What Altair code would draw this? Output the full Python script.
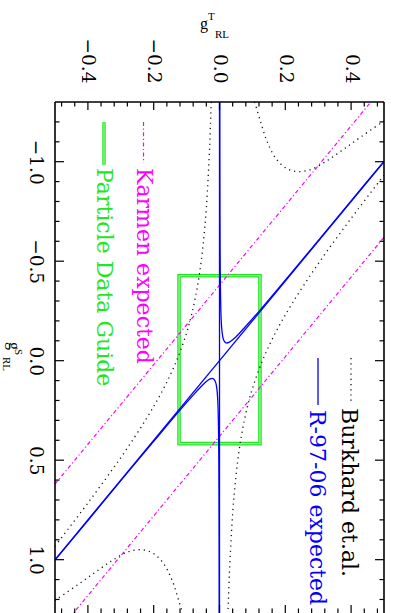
import altair as alt
import pandas as pd

# ---------------- data ----------------
# axis ticks
GT_MAJOR = [-0.4, -0.2, 0.0, 0.2, 0.4]
GT_MINOR = [-0.48, -0.44, -0.36, -0.32, -0.28, -0.24, -0.16, -0.12, -0.08, -0.04,
            0.04, 0.08, 0.12, 0.16, 0.24, 0.28, 0.32, 0.36, 0.44, 0.48]
GS_MAJOR = [-1.0, -0.5, 0.0, 0.5, 1.0]
GS_MINOR = [-1.2, -1.1, -0.9, -0.8, -0.7, -0.6, -0.4, -0.3, -0.2, -0.1,
            0.1, 0.2, 0.3, 0.4, 0.6, 0.7, 0.8, 0.9, 1.1, 1.2]

LEGEND_LABELS = ["Burkhard et.al.", "R-97-06 expected", "Karmen expected", "Particle Data Guide"]

# R-97-06 expected (blue)
R97_VERT_T = [0.0, 0.0]
R97_VERT_S = [-1.3, 1.3]
R97_DIAG_T = [0.5, -0.5]
R97_DIAG_S = [-1.0, 1.0]
R97_UP_T = [0.00077, 0.001, 0.0015, 0.002, 0.003, 0.004, 0.005, 0.007, 0.010, 0.013, 0.017,
            0.022, 0.030, 0.040, 0.060, 0.080, 0.120, 0.200, 0.300, 0.400, 0.500]
R97_UP_S = [-1.300, -1.002, -0.670, -0.504, -0.339, -0.258, -0.210, -0.157, -0.120, -0.103, -0.093,
            -0.089, -0.093, -0.105, -0.137, -0.173, -0.248, -0.405, -0.603, -0.803, -1.002]
R97_LO_T = [-0.00077, -0.001, -0.0015, -0.002, -0.003, -0.004, -0.005, -0.007, -0.010, -0.013, -0.017,
            -0.022, -0.030, -0.040, -0.060, -0.080, -0.120, -0.200, -0.300, -0.400, -0.500]
R97_LO_S = [1.300, 1.002, 0.670, 0.504, 0.339, 0.258, 0.210, 0.157, 0.120, 0.103, 0.093,
            0.089, 0.093, 0.105, 0.137, 0.173, 0.248, 0.405, 0.603, 0.803, 1.002]

# Burkhard et.al. (black dotted)
BUR_L_T = [-0.0252, -0.030, -0.040, -0.050, -0.060, -0.070, -0.085, -0.100, -0.130, -0.170, -0.220, -0.300, -0.400, -0.500]
BUR_L_S = [-1.300, -1.073, -0.770, -0.580, -0.447, -0.346, -0.230, -0.140, -0.002, 0.140, 0.285, 0.487, 0.715, 0.932]
BUR_R_T = [0.0252, 0.030, 0.040, 0.050, 0.060, 0.070, 0.085, 0.100, 0.130, 0.170, 0.220, 0.300, 0.400, 0.500]
BUR_R_S = [1.300, 1.073, 0.770, 0.580, 0.447, 0.346, 0.230, 0.140, 0.002, -0.140, -0.285, -0.487, -0.715, -0.932]
BUR_TOP_T = [0.107, 0.125, 0.145, 0.172, 0.205, 0.240, 0.280, 0.325, 0.375, 0.430, 0.500]
BUR_TOP_S = [-1.300, -1.200, -1.100, -1.015, -0.965, -0.950, -0.962, -1.003, -1.060, -1.125, -1.205]
BUR_BOT_T = [-0.107, -0.125, -0.145, -0.172, -0.205, -0.240, -0.280, -0.325, -0.375, -0.430, -0.500]
BUR_BOT_S = [1.300, 1.200, 1.100, 1.015, 0.965, 0.950, 0.962, 1.003, 1.060, 1.125, 1.205]

# Karmen expected (magenta dash-dot)
KAR_1_T = [-0.50, 0.46]
KAR_1_S = [0.62, -1.30]
KAR_2_T = [0.50, -0.46]
KAR_2_S = [-0.62, 1.30]

# Particle Data Guide (green box)
PDG_T = [-0.123, 0.123]
PDG_S = [-0.427, 0.417]

# ---------------- layout ----------------
W, H = 329, 511
PAD = {"left": 55, "top": 102, "right": 9, "bottom": 0}

BLUE = "#0000ff"
MAG = "#ff00ff"
GREEN = "#22e622"
LIGHTGREEN = "#a8ffa8"
SERIF = "DejaVu Serif"


def curves(named):
    rows = []
    for name, (ts, ss) in named.items():
        for i, (t, s) in enumerate(zip(ts, ss)):
            rows.append({"curve": name, "i": i, "gT": t, "gS": s})
    return pd.DataFrame(rows)


blue_df = curves({"vert": (R97_VERT_T, R97_VERT_S), "diag": (R97_DIAG_T, R97_DIAG_S),
                  "up": (R97_UP_T, R97_UP_S), "lo": (R97_LO_T, R97_LO_S)})
black_df = curves({"l": (BUR_L_T, BUR_L_S), "r": (BUR_R_T, BUR_R_S),
                   "top": (BUR_TOP_T, BUR_TOP_S), "bot": (BUR_BOT_T, BUR_BOT_S)})
mag_df = curves({"k1": (KAR_1_T, KAR_1_S), "k2": (KAR_2_T, KAR_2_S)})
pdg_df = pd.DataFrame({"gT": [PDG_T[0]], "gT2": [PDG_T[1]], "gS": [PDG_S[0]], "gS2": [PDG_S[1]]})
one = pd.DataFrame({"a": [0]})

xsc = alt.Scale(domain=[-0.5, 0.5], nice=False, zero=False)
ysc = alt.Scale(domain=[-1.3, 1.268], reverse=True, nice=False, zero=False)
xax = alt.Axis(orient="top", values=GT_MAJOR, format=".1f", labelAngle=90, labelAlign="right",
               labelBaseline="middle", labelPadding=19, ticks=False, tickSize=0, domain=False,
               grid=False, title=None, labelFont=SERIF, labelFontSize=18.5, labelColor="black",
               labelOverlap=False)
yax = alt.Axis(orient="left", values=GS_MAJOR, format=".1f", labelAngle=90, labelAlign="center",
               labelBaseline="top", labelPadding=11, ticks=False, tickSize=0, domain=False,
               grid=False, title=None, labelFont=SERIF, labelFontSize=18.5, labelColor="black",
               labelOverlap=False)

X = alt.X("gT:Q", scale=xsc, axis=xax)
Y = alt.Y("gS:Q", scale=ysc, axis=yax)


def line(df, **kw):
    return alt.Chart(df).mark_line(clip=True, interpolate="catmull-rom", **kw).encode(
        x=X, y=Y, detail="curve:N", order="i:Q")


layers = []

# green PDG box (double line look)
layers.append(alt.Chart(pdg_df).mark_rect(filled=False, stroke=GREEN, strokeWidth=3.6).encode(
    x=X, x2="gT2:Q", y=Y, y2="gS2:Q"))
layers.append(alt.Chart(pdg_df).mark_rect(filled=False, stroke=LIGHTGREEN, strokeWidth=1.1).encode(
    x=X, x2="gT2:Q", y=Y, y2="gS2:Q"))

# curves
layers.append(line(mag_df, color=MAG, strokeWidth=1.2, strokeDash=[4, 2.5, 1.2, 2.5]))
layers.append(line(black_df, color="#111111", strokeWidth=1.3, strokeDash=[1.2, 4]))
layers.append(line(blue_df, color=BLUE, strokeWidth=1.3))

# ticks (inward)
gt_major = pd.DataFrame({"gT": GT_MAJOR})
gt_minor = pd.DataFrame({"gT": GT_MINOR})
gs_major = pd.DataFrame({"gS": GS_MAJOR})
gs_minor = pd.DataFrame({"gS": GS_MINOR})
for df, ln in ((gt_major, 8), (gt_minor, 4.5)):
    layers.append(alt.Chart(df).mark_rule(color="black", strokeWidth=1.2).encode(
        x=X, y=alt.value(0), y2=alt.value(ln)))
    layers.append(alt.Chart(df).mark_rule(color="black", strokeWidth=1.2).encode(
        x=X, y=alt.value(H), y2=alt.value(H - ln)))
for df, ln in ((gs_major, 9), (gs_minor, 4.5)):
    layers.append(alt.Chart(df).mark_rule(color="black", strokeWidth=1.2).encode(
        y=Y, x=alt.value(0), x2=alt.value(ln)))
    layers.append(alt.Chart(df).mark_rule(color="black", strokeWidth=1.2).encode(
        y=Y, x=alt.value(W), x2=alt.value(W - ln)))

# frame (top, left, right)
frame = alt.Chart(one).mark_rule(color="black", strokeWidth=1.6)
layers.append(frame.encode(x=alt.value(0), x2=alt.value(W), y=alt.value(0)))
layers.append(frame.encode(x=alt.value(0), y=alt.value(0), y2=alt.value(H)))
layers.append(frame.encode(x=alt.value(W), y=alt.value(0), y2=alt.value(H)))

# legend samples
layers.append(alt.Chart(one).mark_rule(color=GREEN, strokeWidth=3.4).encode(
    x=alt.value(49), y=alt.value(20), y2=alt.value(63)))
layers.append(alt.Chart(one).mark_rule(color=LIGHTGREEN, strokeWidth=1.0).encode(
    x=alt.value(49), y=alt.value(20), y2=alt.value(63)))
layers.append(alt.Chart(one).mark_rule(color=MAG, strokeWidth=1.2, strokeDash=[4, 2.5, 1.2, 2.5]).encode(
    x=alt.value(88.5), y=alt.value(20), y2=alt.value(61)))
layers.append(alt.Chart(one).mark_rule(color="#111111", strokeWidth=1.3, strokeDash=[1.2, 4]).encode(
    x=alt.value(296), y=alt.value(256), y2=alt.value(300)))
layers.append(alt.Chart(one).mark_rule(color=BLUE, strokeWidth=1.3).encode(
    x=alt.value(263), y=alt.value(256), y2=alt.value(303)))


def rtext(label, x, y, color, size=22, font=SERIF, angle=90):
    return alt.Chart(one).mark_text(angle=angle, align="left", baseline="alphabetic", font=font,
                                    fontSize=size, color=color).encode(
        x=alt.value(x), y=alt.value(y), text=alt.value(label))


layers.append(rtext(LEGEND_LABELS[0], 287, 306, "black"))
layers.append(rtext(LEGEND_LABELS[1], 255, 308, BLUE))
layers.append(rtext(LEGEND_LABELS[2], 82, 66, MAG))
layers.append(rtext(LEGEND_LABELS[3], 42, 66, GREEN))

# axis titles g^T_RL (top, horizontal) and g^S_RL (left, rotated)
layers.append(rtext("g", 145, -73, "black", size=16, font="Liberation Serif", angle=0))
layers.append(rtext("T", 153, -82, "black", size=11, font="Liberation Serif", angle=0))
layers.append(rtext("RL", 160, -64, "black", size=11, font="Liberation Serif", angle=0))
layers.append(rtext("g", -46, 240, "black", size=16, font="Liberation Serif"))
layers.append(rtext("S", -40, 247, "black", size=11, font="Liberation Serif"))
layers.append(rtext("RL", -52, 255, "black", size=11, font="Liberation Serif"))

chart = alt.layer(*layers).properties(
    width=W, height=H, padding=PAD, autosize=alt.AutoSizeParams(type="none"),
    background="white",
).configure_view(strokeWidth=0)

chart.save("out.html", embed_options={"renderer": "svg", "actions": False})
